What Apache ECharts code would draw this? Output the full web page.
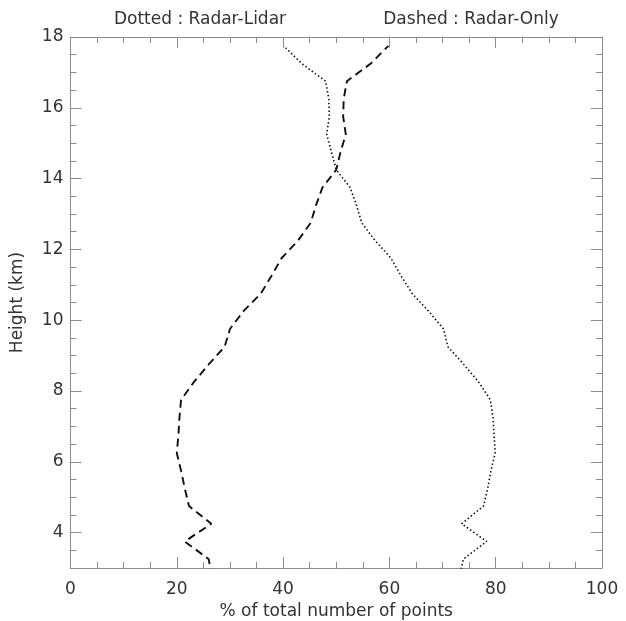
<!DOCTYPE html>
<html><head><meta charset="utf-8">
<script src="https://cdn.jsdelivr.net/npm/echarts@6/dist/echarts.min.js"></script>
<style>html,body{margin:0;padding:0;background:#fff}#c{width:626px;height:621px}</style>
</head><body><div id="c"></div>
<script>
// Height bins (km)
const heights = [2.75, 3.25, 3.75, 4.25, 4.75, 5.25, 5.75, 6.25, 6.75, 7.25, 7.75,
  8.25, 8.75, 9.25, 9.75, 10.25, 10.75, 11.25, 11.75, 12.25, 12.75,
  13.25, 13.75, 14.25, 14.75, 15.25, 15.75, 16.25, 16.75, 17.25, 17.75];
// Dashed : Radar-Only (% of total number of points)
const radarOnly = [26.6, 26.0, 21.5, 26.5, 22.3, 21.5, 20.8, 20.0, 20.3, 20.5, 20.8,
  23.2, 26.0, 29.0, 30.0, 32.5, 35.8, 37.8, 39.7, 42.8, 45.2,
  46.2, 47.4, 50.0, 50.8, 51.8, 51.3, 51.4, 52.0, 56.5, 59.8];
// Dotted : Radar-Lidar (% of total number of points)
const radarLidar = [73.2, 73.9, 78.3, 73.6, 77.7, 78.5, 79.1, 79.9, 79.7, 79.5, 79.0,
  76.8, 74.0, 71.0, 70.2, 67.4, 64.3, 62.2, 60.3, 57.3, 54.8,
  53.8, 52.6, 50.0, 49.1, 48.2, 48.7, 48.6, 48.0, 43.5, 40.1];
// Y tick labels (km)
const yTickLabels = [4, 6, 8, 10, 12, 14, 16, 18];
const legendTexts = ['Dotted : Radar-Lidar', 'Dashed : Radar-Only'];
const xName = '% of total number of points';
const yName = 'Height (km)';

const FONT = 'DejaVu Sans';
const AX = '#8c8c8c';
const TXT = '#333';

function xAx(pos, showLabel) {
  return {
    type: 'value', position: pos, min: 0, max: 100, interval: 20,
    axisLine: { show: true, onZero: false, lineStyle: { color: AX, width: 1 } },
    axisTick: { show: true, inside: true, length: 11, lineStyle: { color: AX, width: 1 } },
    minorTick: { show: true, splitNumber: 4, length: 6, lineStyle: { color: AX, width: 1 } },
    splitLine: { show: false }, minorSplitLine: { show: false },
    axisLabel: { show: showLabel, color: TXT, fontSize: 17, fontFamily: FONT, margin: 13 },
    name: showLabel ? xName : '', nameLocation: 'middle', nameGap: 30,
    nameTextStyle: { color: TXT, fontSize: 17, fontFamily: FONT }
  };
}
// major y axis: long ticks + labels at even km
function yAxMajor(pos, showLabel) {
  return {
    type: 'value', position: pos, min: 3, max: 18, interval: 1,
    axisLine: { show: true, onZero: false, lineStyle: { color: AX, width: 1 } },
    axisTick: { show: true, inside: true, length: 11, customValues: yTickLabels, lineStyle: { color: AX, width: 1 } },
    minorTick: { show: false },
    splitLine: { show: false }, minorSplitLine: { show: false },
    axisLabel: { show: showLabel, color: TXT, fontSize: 17, fontFamily: FONT, margin: 7,
      customValues: yTickLabels },
    name: showLabel ? yName : '', nameLocation: 'middle', nameGap: 44,
    nameTextStyle: { color: TXT, fontSize: 17, fontFamily: FONT }
  };
}
// minor y axis: short ticks every 0.5 km
function yAxMinor(pos) {
  return {
    type: 'value', position: pos, min: 3, max: 18, interval: 0.5,
    axisLine: { show: false, onZero: false },
    axisTick: { show: true, inside: true, length: 6, lineStyle: { color: AX, width: 1 } },
    minorTick: { show: false },
    splitLine: { show: false },
    axisLabel: { show: false }
  };
}

const chart = echarts.init(document.getElementById('c'), null, { renderer: 'canvas' });
chart.setOption({
  animation: false,
  backgroundColor: '#fff',
  grid: { left: 70.5, right: 24, top: 37, bottom: 53, containLabel: false, outerBoundsMode: 'none' },
  xAxis: [xAx('bottom', true), xAx('top', false)],
  yAxis: [yAxMajor('left', true), yAxMajor('right', false), yAxMinor('left'), yAxMinor('right')],
  graphic: [
    { type: 'text', x: 200, y: 20, style: { text: legendTexts[0], textAlign: 'center', textVerticalAlign: 'middle', font: '17px "DejaVu Sans"', fill: TXT } },
    { type: 'text', x: 471, y: 20, style: { text: legendTexts[1], textAlign: 'center', textVerticalAlign: 'middle', font: '17px "DejaVu Sans"', fill: TXT } }
  ],
  series: [
    { type: 'line', name: 'Radar-Lidar', xAxisIndex: 0, yAxisIndex: 0, symbol: 'none', clip: true,
      data: heights.map((h, i) => [radarLidar[i], h]),
      lineStyle: { color: '#111', width: 1.6, type: [1.5, 2.4], cap: 'butt' } },
    { type: 'line', name: 'Radar-Only', xAxisIndex: 0, yAxisIndex: 0, symbol: 'none', clip: true,
      data: heights.map((h, i) => [radarOnly[i], h]),
      lineStyle: { color: '#111', width: 1.9, type: [8, 5], cap: 'butt' } }
  ]
});
</script></body></html>
